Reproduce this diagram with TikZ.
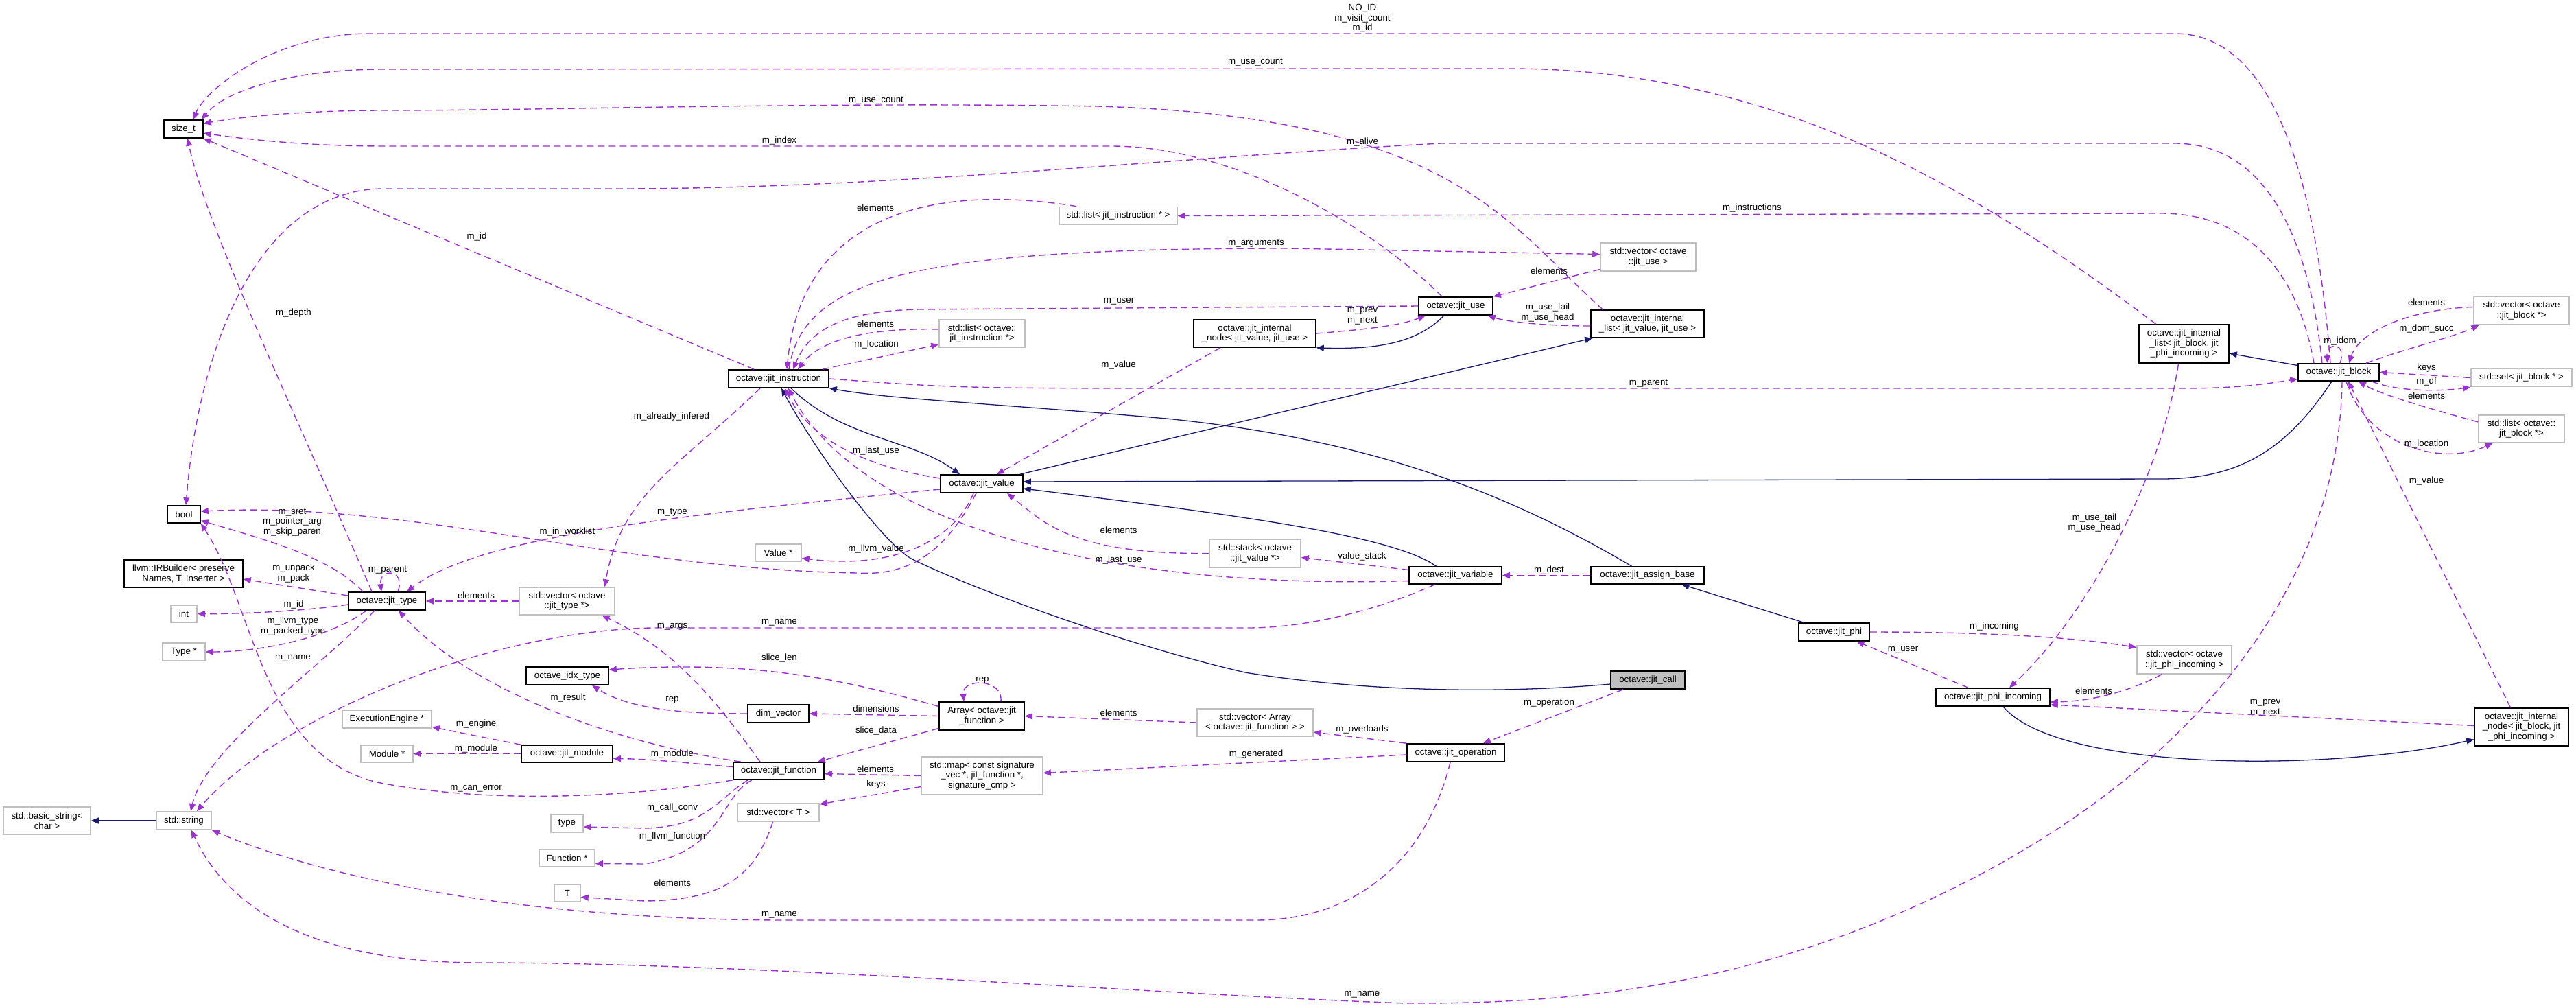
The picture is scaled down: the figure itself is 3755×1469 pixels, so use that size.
\documentclass[tikz,border=0pt]{standalone}
\usepackage{fontspec}
\setmainfont{Liberation Sans}
\usetikzlibrary{arrows.meta}
\definecolor{usecol}{HTML}{9A32CD}
\definecolor{inhcol}{HTML}{191970}
\definecolor{extcol}{HTML}{BFBFBF}

\begin{document}
\begin{tikzpicture}[x=1pt, y=-1pt, font=\fontsize{13.3}{14.5}\selectfont,
  cls/.style={draw=black, line width=1.6pt, fill=white, inner sep=0pt, align=center},
  ext/.style={cls, draw=extcol},
  mem/.style={draw=usecol, line width=1.4pt, dash pattern=on 10pt off 6pt, -{Triangle[length=11pt, width=9pt]}},
  inh/.style={draw=inhcol, line width=1.3pt, -{Triangle[length=11pt, width=9pt]}},
  lbl/.style={inner sep=0pt, align=center}]
\path[use as bounding box, fill=white] (0,0) rectangle (3755,1469);
% classes
\node[cls, minimum width=57, minimum height=26] (sz) at (267.5,188) {size\_t};
\node[cls, minimum width=48, minimum height=25] (bo) at (268,749.5) {bool};
\node[cls, minimum width=173, minimum height=40] (irb) at (267.5,836) {llvm::IRBuilder< preserve\\Names, T, Inserter >};
\node[cls, minimum width=112, minimum height=26] (jty) at (564,876) {octave::jit\_type};
\node[cls, minimum width=120, minimum height=26] (idx) at (827,985) {octave\_idx\_type};
\node[cls, minimum width=133, minimum height=25] (jmod) at (826.5,1098.5) {octave::jit\_module};
\node[cls, minimum width=146, minimum height=26] (jins) at (1135,552) {octave::jit\_instruction};
\node[cls, minimum width=120, minimum height=26] (jval) at (1431,705) {octave::jit\_value};
\node[cls, minimum width=89, minimum height=26] (dimv) at (1134.5,1040) {dim\_vector};
\node[cls, minimum width=132, minimum height=25] (jfun) at (1135,1123.5) {octave::jit\_function};
\node[cls, minimum width=124, minimum height=41] (arr) at (1431,1043.5) {Array< octave::jit\\\_function >};
\node[cls, minimum width=178, minimum height=40] (inod) at (1829,486) {octave::jit\_internal\\\_node< jit\_value, jit\_use >};
\node[cls, minimum width=108, minimum height=26] (juse) at (2122,446) {octave::jit\_use};
\node[cls, minimum width=165, minimum height=40] (ilst) at (2401.5,472) {octave::jit\_internal\\\_list< jit\_value, jit\_use >};
\node[cls, minimum width=135, minimum height=25] (jvar) at (2121.5,838.5) {octave::jit\_variable};
\node[cls, minimum width=165, minimum height=25] (jasg) at (2401.5,838.5) {octave::jit\_assign\_base};
\node[cls, fill=extcol, minimum width=108, minimum height=26] (jcall) at (2402,991) {octave::jit\_call};
\node[cls, minimum width=142, minimum height=26] (jop) at (2122,1097) {octave::jit\_operation};
\node[cls, minimum width=103, minimum height=26] (jphi) at (2673.5,921) {octave::jit\_phi};
\node[cls, minimum width=131, minimum height=56] (ilstb) at (3183.5,501) {octave::jit\_internal\\\_list< jit\_block, jit\\\_phi\_incoming >};
\node[cls, minimum width=118, minimum height=25] (jblk) at (3409,542.5) {octave::jit\_block};
\node[cls, minimum width=166, minimum height=26] (jphin) at (2905,1016) {octave::jit\_phi\_incoming};
\node[cls, minimum width=137, minimum height=55] (inodb) at (3675.5,1059.5) {octave::jit\_internal\\\_node< jit\_block, jit\\\_phi\_incoming >};
% external types
\node[ext, minimum width=127, minimum height=40] (bstr) at (68.5,1196) {std::basic\_string<\\char >};
\node[ext, minimum width=80, minimum height=26] (str) at (268,1196) {std::string};
\node[ext, minimum width=38, minimum height=25] (it) at (268,894.5) {int};
\node[ext, minimum width=62, minimum height=26] (typ) at (268,950) {Type *};
\node[ext, minimum width=139, minimum height=40] (vty) at (826.5,876) {std::vector< octave\\::jit\_type *>};
\node[ext, minimum width=130, minimum height=26] (eng) at (564,1048) {ExecutionEngine *};
\node[ext, minimum width=76, minimum height=25] (modp) at (564,1098.5) {Module *};
\node[ext, minimum width=47, minimum height=26] (typn) at (826.5,1200) {type};
\node[ext, minimum width=81, minimum height=25] (fnp) at (826.5,1250.5) {Function *};
\node[ext, minimum width=38, minimum height=25] (tt) at (827,1301.5) {T};
\node[ext, minimum width=67, minimum height=25] (val) at (1134.5,805.5) {Value *};
\node[ext, minimum width=119, minimum height=26] (vect) at (1134.5,1184) {std::vector< T >};
\node[ext, minimum width=172, minimum height=26] (lsti) at (1630,314.5) {std::list< jit\_instruction * >};
\node[ext, minimum width=125, minimum height=40] (lsto) at (1431.5,486) {std::list< octave::\\jit\_instruction *>};
\node[ext, minimum width=139, minimum height=41] (vuse) at (2402.5,374.5) {std::vector< octave\\::jit\_use >};
\node[ext, minimum width=133, minimum height=41] (stk) at (1829.5,806.5) {std::stack< octave\\::jit\_value *>};
\node[ext, minimum width=177, minimum height=55] (mapf) at (1431.5,1130.5) {std::map< const signature\\\_vec *, jit\_function *,\\signature\_cmp >};
\node[ext, minimum width=169, minimum height=40] (varr) at (1829.5,1053) {std::vector< Array\\< octave::jit\_function > >};
\node[ext, minimum width=139, minimum height=41] (vblk) at (3675.5,452.5) {std::vector< octave\\::jit\_block *>};
\node[ext, minimum width=147, minimum height=26] (setb) at (3675.5,550.5) {std::set< jit\_block * >};
\node[ext, minimum width=125, minimum height=40] (lstb) at (3675.5,625) {std::list< octave::\\jit\_block *>};
\node[ext, minimum width=138, minimum height=41] (vphi) at (3184,961.5) {std::vector< octave\\::jit\_phi\_incoming >};
% inheritance
\draw[inh] (str.west) -- (bstr.east);
\draw[inh] ([xshift=18pt]jins.south) .. controls (1230,640) and (1330,640) .. ([xshift=-32pt]jval.north);
\draw[inh] ([yshift=-6pt]jcall.west) .. controls (2200,1010) and (2000,1010) .. (1815,980) .. controls (1620,935) and (1400,850) .. (1330,815) .. controls (1290,795) and (1190,660) .. ([xshift=4pt]jins.south);
\draw[inh] ([xshift=-23pt]jasg.north) .. controls (2200,720) and (2000,640) .. (1700,610) .. controls (1450,588) and (1300,582) .. (jins.south east);
\draw[inh] ([xshift=-44pt]jphi.north) -- ([xshift=50pt]jasg.south);
\draw[inh] ([xshift=-28pt]jvar.north) .. controls (2030,780) and (1800,750) .. ([yshift=-7pt]jval.east);
\draw[inh] ([xshift=-10pt]jblk.south) .. controls (3330,660) and (3260,698) .. (3150,698) -- ([yshift=3pt]jval.east);
\draw[inh] ([xshift=-17pt]juse.south) .. controls (2070,495) and (2020,510) .. (inod.south east);
\draw[inh] ([xshift=-5pt]jval.north east) -- ([xshift=3pt]ilst.south west);
\draw[inh] ([xshift=15pt]jphin.south) .. controls (3000,1125) and (3400,1125) .. ([yshift=-18pt]inodb.west);
\draw[inh] ([yshift=10pt]jblk.west) -- ([yshift=-14pt]ilstb.east);
% members into size_t and bool
\draw[mem] ([xshift=-12pt]jblk.north) .. controls (3375,250) and (3310,49) .. (3170,49) -- (540,49) .. controls (400,49) and (300,130) .. ([xshift=14pt]sz.north);
\draw[mem] ([xshift=-41pt]ilstb.north) .. controls (2900,290) and (2600,100) .. (2200,100) -- (560,101) .. controls (430,101) and (330,130) .. ([xshift=-3pt]sz.north east);
\draw[mem] ([xshift=-65pt]ilst.north) .. controls (2200,330) and (2120,170) .. (1600,155) .. controls (1200,148) and (800,161) .. (560,161) .. controls (430,161) and (340,172) .. (sz.15);
\draw[mem] ([xshift=-20pt]juse.north) .. controls (2000,330) and (1800,213) .. (1620,213) -- (560,213) .. controls (430,213) and (340,200) .. (sz.-12);
\draw[mem] ([xshift=-36pt]jins.north) -- (sz.south east);
\draw[mem] ([xshift=-22pt]jty.north) .. controls (430,600) and (300,330) .. ([xshift=6pt]sz.south);
\draw[mem] ([xshift=-24pt]jblk.north) .. controls (3365,340) and (3300,209) .. (3170,209) -- (2100,209) .. controls (1700,230) and (1300,275) .. (900,275) -- (560,275) .. controls (380,275) and (290,500) .. ([xshift=3pt]bo.north);
\draw[mem] ([xshift=-35pt]jty.north) .. controls (480,810) and (380,785) .. (bo.-20);
\draw[mem] ([xshift=-8pt]jval.south) .. controls (1380,800) and (1330,840) .. (1250,835) .. controls (900,830) and (600,730) .. (bo.10);
\draw[mem] (jfun.south west) .. controls (900,1165) and (700,1170) .. (550,1140) .. controls (380,1100) and (370,880) .. (bo.south east);
% jit_type and friends
\draw[mem] ([xshift=16pt]jty.north) .. controls (592,828) and (552,828) .. ([xshift=-8pt]jty.north);
\draw[mem] (vty.west) -- (jty.east);
\draw[mem] ([yshift=-8pt]jval.west) .. controls (1000,750) and (700,780) .. ([xshift=29pt]jty.north);
\draw[mem] ([xshift=-55pt]jfun.north) .. controls (880,1080) and (680,1000) .. ([xshift=17pt]jty.south);
\draw[mem] ([xshift=-27pt]jfun.north) .. controls (1050,1030) and (990,950) .. ([xshift=51pt]vty.south);
\draw[mem] ([xshift=-27pt]jins.south) .. controls (990,680) and (905,720) .. ([xshift=55pt]vty.north);
\draw[mem] ([yshift=8pt]jty.west) -- ([yshift=-8pt]irb.east);
\draw[mem] ([yshift=-5pt]jty.west) .. controls (450,890) and (350,895) .. (it.east);
\draw[mem] ([xshift=-30pt]jty.south) .. controls (480,930) and (380,950) .. (typ.east);
% std::string
\draw[mem] ([xshift=-18pt]jty.south) .. controls (470,970) and (300,1090) .. ([xshift=10pt]str.north);
\draw[mem] ([xshift=-30pt]jvar.south) .. controls (2030,880) and (1920,915) .. (1820,915) -- (950,915) .. controls (700,920) and (400,1050) .. ([xshift=19pt]str.north);
\draw[mem] ([xshift=-8pt]jop.south) .. controls (2080,1250) and (1980,1341) .. (1830,1341) -- (1150,1341) .. controls (800,1341) and (500,1290) .. (str.south east);
\draw[mem] ([xshift=5pt]jblk.south) .. controls (3410,850) and (3200,1130) .. (2815,1310) .. controls (2545,1436) and (2300,1463) .. (2050,1462) .. controls (1700,1450) and (1100,1403) .. (700,1403) .. controls (450,1403) and (330,1320) .. ([xshift=11pt]str.south);
% jit_function side
\draw[mem] (jmod.north west) -- (eng.-10);
\draw[mem] (jmod.west) -- (modp.east);
\draw[mem] ([yshift=6pt]jfun.west) .. controls (1000,1112) and (950,1106) .. ([yshift=-7pt]jmod.east);
\draw[mem] ([xshift=-45pt]jfun.south) .. controls (1045,1165) and (1030,1205) .. (940,1207) -- ([yshift=-5pt]typn.east);
\draw[mem] ([xshift=-39pt]jfun.south) .. controls (1050,1160) and (1055,1240) .. (940,1259) -- ([yshift=-8pt]fnp.east);
\draw[mem] ([xshift=-8pt]vect.south) .. controls (1100,1280) and (1050,1312) .. (940,1313) -- ([yshift=-6pt]tt.east);
\draw[mem] (dimv.west) .. controls (1000,1040) and (920,1035) .. ([xshift=36pt]idx.south);
\draw[mem] ([yshift=14pt]arr.west) .. controls (1230,990) and (1100,962) .. ([yshift=9pt]idx.east);
\draw[mem] ([xshift=28pt]arr.north) .. controls (1462,988) and (1402,988) .. ([xshift=-26pt]arr.north);
\draw[mem] (varr.west) -- (arr.east);
\draw[mem] (arr.west) -- (dimv.east);
\draw[mem] ([yshift=-18pt]arr.west) -- ([xshift=-10pt]jfun.north east);
\draw[mem] (mapf.west) -- ([yshift=-4pt]jfun.east);
\draw[mem] ([yshift=-16pt]mapf.west) -- ([yshift=12pt]vect.east);
\draw[mem] ([yshift=-3pt]jop.west) -- ([yshift=4pt]mapf.east);
\draw[mem] (jop.north west) -- ([yshift=-14pt]varr.east);
\draw[mem] ([xshift=-36pt]jcall.south) -- ([xshift=40pt]jop.north);
% jit_block side
\draw[mem] ([xshift=-16pt]inodb.north) -- ([xshift=14pt]jblk.south);
\draw[mem] ([xshift=2pt]jblk.north) .. controls (3422,498) and (3390,498) .. ([xshift=-16pt]jblk.north);
\draw[mem] ([yshift=5pt]vblk.west) .. controls (3520,450) and (3440,480) .. ([xshift=15pt]jblk.north);
\draw[mem] ([xshift=40pt]jblk.north) .. controls (3500,510) and (3580,490) .. ([xshift=-62pt]vblk.south);
\draw[mem] (setb.west) -- (jblk.east);
\draw[mem] ([xshift=-12pt]jblk.south east) .. controls (3500,572) and (3560,570) .. (setb.south west);
\draw[mem] ([yshift=10pt]lstb.west) .. controls (3540,595) and (3470,575) .. ([xshift=29pt]jblk.south);
\draw[mem] ([xshift=11pt]jblk.south) .. controls (3450,650) and (3560,680) .. ([xshift=-42pt]lstb.south);
\draw[mem] (jins.east) .. controls (1400,566) .. (1800,566) -- (3180,566) .. controls (3270,566) and (3310,558) .. ([yshift=-10pt]jblk.west);
\draw[mem] ([xshift=-36pt]jblk.north) .. controls (3350,400) and (3280,311) .. (3150,311) -- (lsti.east);
\draw[mem] ([xshift=-8pt]ilstb.south) .. controls (3150,700) and (3040,900) .. ([xshift=24pt]jphin.north);
\draw[mem] ([yshift=2pt]inodb.west) -- ([yshift=-11pt]jphin.east);
\draw[mem] ([xshift=-33pt]vphi.south) .. controls (3120,1000) and (3060,1022) .. ([yshift=-7pt]jphin.east);
\draw[mem] (jphi.east) .. controls (2850,921) and (3000,925) .. ([yshift=18pt]vphi.west);
\draw[mem] ([xshift=-36pt]jphin.north) -- ([xshift=33pt]jphi.south);
% jit_instruction / jit_value / jit_use
\draw[mem] ([xshift=15pt]jins.north) .. controls (1170,400) and (1350,362) .. (1880,362) -- ([yshift=4pt]vuse.west);
\draw[mem] (juse.west) -- (1340,451) .. controls (1230,453) and (1180,480) .. ([xshift=21pt]jins.north);
\draw[mem] ([xshift=-61pt]lsti.north) .. controls (1380,270) and (1170,300) .. ([xshift=12pt]jins.north);
\draw[mem] ([yshift=6pt]lsto.west) .. controls (1280,478) and (1200,490) .. ([xshift=28pt]jins.north);
\draw[mem] ([xshift=-10pt]jins.north east) -- ([yshift=-16pt]lsto.west);
\draw[mem] ([yshift=8pt]jval.west) .. controls (1260,680) and (1180,640) .. ([xshift=9pt]jins.south);
\draw[mem] ([yshift=-8pt]jvar.west) .. controls (1600,860) and (1250,760) .. ([xshift=14pt]jins.south);
\draw[mem] ([xshift=-50pt]inod.south) -- ([xshift=22pt]jval.north);
\draw[mem] (stk.west) .. controls (1560,808) and (1520,760) .. ([xshift=37pt]jval.south);
\draw[mem] ([yshift=8pt]jvar.west) -- ([yshift=-6pt]stk.east);
\draw[mem] ([xshift=-12pt]jval.south) .. controls (1390,790) and (1300,830) .. ([yshift=-8pt]val.east);
\draw[mem] (inod.east) .. controls (1990,480) and (2040,475) .. ([xshift=-44pt]juse.south);
\draw[mem] ([yshift=-18pt]vuse.west) -- (juse.north east);
\draw[mem] ([yshift=-3pt]ilst.west) .. controls (2260,475) and (2200,470) .. ([xshift=-8pt]juse.south east);
\draw[mem] (jasg.west) -- (jvar.east);
% edge labels
\node[lbl] (t1) at (1986,27) {NO\_ID\\m\_visit\_count\\m\_id};
\node[lbl] (t2) at (1830,91) {m\_use\_count};
\node[lbl] (t3) at (1277,147) {m\_use\_count};
\node[lbl] (t4) at (1136,205) {m\_index};
\node[lbl] (t5) at (1986,207) {m\_alive};
\node[lbl] (t6) at (1276,303) {elements};
\node[lbl] (t7) at (2554,303) {m\_instructions};
\node[lbl] (t8) at (695,345) {m\_id};
\node[lbl] (t9) at (1831,355) {m\_arguments};
\node[lbl] (t10) at (2258,395) {elements};
\node[lbl] (t11) at (1631,439) {m\_user};
\node[lbl] (t12) at (1986,460.5) {m\_prev\\m\_next};
\node[lbl] (t13) at (2256,455.5) {m\_use\_tail\\m\_use\_head};
\node[lbl] (t14) at (1276,472) {elements};
\node[lbl] (t15) at (428,456) {m\_depth};
\node[lbl] (t16) at (3411,497) {m\_idom};
\node[lbl] (t17) at (1277.5,502) {m\_location};
\node[lbl] (t18) at (1630.6,532) {m\_value};
\node[lbl] (t19) at (3537,441) {elements};
\node[lbl] (t20) at (3537,479) {m\_dom\_succ};
\node[lbl] (t21) at (3537,536) {keys};
\node[lbl] (t22) at (3537,556) {m\_df};
\node[lbl] (t23) at (3537,577) {elements};
\node[lbl] (t24) at (2403,559) {m\_parent};
\node[lbl] (t25) at (979,607) {m\_already\_infered};
\node[lbl] (t26) at (3537,647) {m\_location};
\node[lbl] (t27) at (1277,657) {m\_last\_use};
\node[lbl] (t28) at (3537,701) {m\_value};
\node[lbl] (t29) at (980,747) {m\_type};
\node[lbl] (t30) at (426,761) {m\_sret\\m\_pointer\_arg\\m\_skip\_paren};
\node[lbl] (t31) at (3053,762) {m\_use\_tail\\m\_use\_head};
\node[lbl] (t32) at (1630.6,773) {elements};
\node[lbl] (t33) at (827,775) {m\_in\_worklist};
\node[lbl] (t34) at (1277,800) {m\_llvm\_value};
\node[lbl] (t35) at (1985.5,811) {value\_stack};
\node[lbl] (t36) at (1630.6,816) {m\_last\_use};
\node[lbl] (t37) at (428,835.5) {m\_unpack\\m\_pack};
\node[lbl] (t38) at (565,831) {m\_parent};
\node[lbl] (t39) at (2258,831) {m\_dest};
\node[lbl] (t40) at (694,868) {elements};
\node[lbl] (t41) at (428,881) {m\_id};
\node[lbl] (t42) at (427,912.5) {m\_llvm\_type\\m\_packed\_type};
\node[lbl] (t43) at (1136,907) {m\_name};
\node[lbl] (t44) at (980,913) {m\_args};
\node[lbl] (t45) at (2907,913) {m\_incoming};
\node[lbl] (t46) at (2774,947) {m\_user};
\node[lbl] (t47) at (1136,959) {slice\_len};
\node[lbl] (t48) at (427,959) {m\_name};
\node[lbl] (t49) at (1432,991) {rep};
\node[lbl] (t50) at (3052,1007) {elements};
\node[lbl] (t51) at (828,1017) {m\_result};
\node[lbl] (t52) at (980,1020) {rep};
\node[lbl] (t53) at (2258,1024) {m\_operation};
\node[lbl] (t54) at (3302,1031.5) {m\_prev\\m\_next};
\node[lbl] (t55) at (1277,1033) {dimensions};
\node[lbl] (t56) at (1630.6,1039) {elements};
\node[lbl] (t57) at (694,1055) {m\_engine};
\node[lbl] (t58) at (1985.5,1063) {m\_overloads};
\node[lbl] (t59) at (1277,1065) {slice\_data};
\node[lbl] (t60) at (694,1091) {m\_module};
\node[lbl] (t61) at (980,1099) {m\_module};
\node[lbl] (t62) at (1831,1099) {m\_generated};
\node[lbl] (t63) at (1276,1121) {elements};
\node[lbl] (t64) at (1277,1143) {keys};
\node[lbl] (t65) at (694,1149) {m\_can\_error};
\node[lbl] (t66) at (980,1177) {m\_call\_conv};
\node[lbl] (t67) at (980,1219) {m\_llvm\_function};
\node[lbl] (t68) at (980,1287) {elements};
\node[lbl] (t69) at (1136,1333) {m\_name};
\node[lbl] (t70) at (1985.5,1449) {m\_name};
\end{tikzpicture}
\end{document}
